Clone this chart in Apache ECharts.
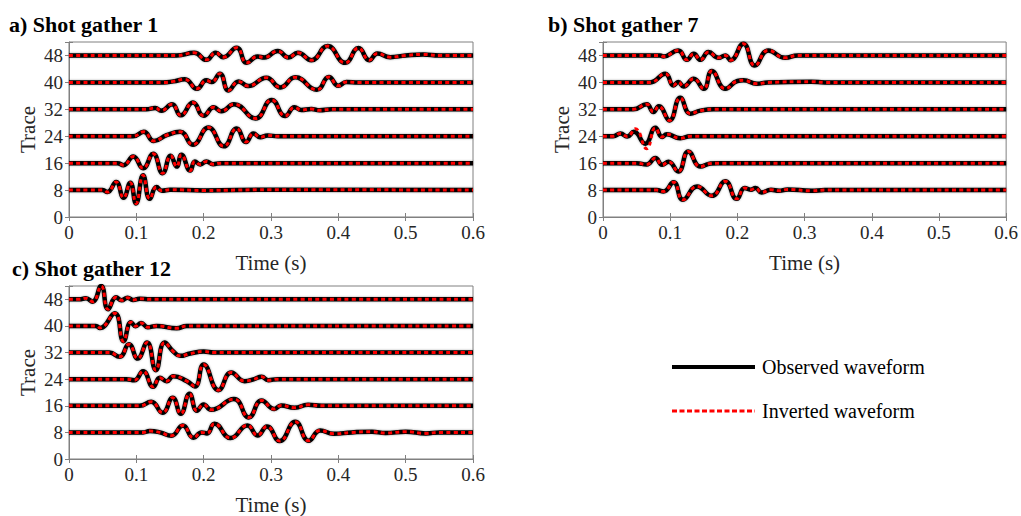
<!DOCTYPE html>
<html>
<head>
<meta charset="utf-8">
<style>
	html, body { margin: 0; padding: 0; background: #fff; }
	#chart { width: 1021px; height: 516px; }
</style>
</head>
<body>
<div id="chart"></div>
<script src="https://cdn.jsdelivr.net/npm/echarts@6.0.0/dist/echarts.min.js"></script>
<script>
	// trace offsets and axis ticks
	var traces = [8, 16, 24, 32, 40, 48];
	var timeTicks = [0, 0.1, 0.2, 0.3, 0.4, 0.5, 0.6];
	var traceTicks = [0, 8, 16, 24, 32, 40, 48];
	var titles = ['a) Shot gather 1', 'b) Shot gather 7', 'c) Shot gather 12'];

	// waveforms: [time (s), amplitude (trace units)]
	// shot gather 1
	var a08 = [[0,0],[0.05,0],[0.057,-0.6],[0.07,2.4],[0.081,-2.3],[0.091,2.2],[0.0995,-4.0],[0.11,4.4],[0.12,-2.6],[0.13,0.9],[0.138,-0.2],[0.15,0.1],[0.2,-0.1],[0.3,0.1],[0.6,0]];
	var a16 = [[0,0],[0.072,0],[0.081,-0.6],[0.0955,2.0],[0.11,-1.5],[0.125,2.8],[0.139,-3.0],[0.151,2.2],[0.16,-1.0],[0.167,2.5],[0.18,-2.2],[0.187,0.5],[0.195,-0.4],[0.204,0.5],[0.214,-0.3],[0.225,0],[0.6,0]];
	var a24 = [[0,0],[0.095,0],[0.111,1.3],[0.126,-1.4],[0.145,0.3],[0.165,1.3],[0.184,-2.5],[0.207,2.6],[0.23,-3.0],[0.249,2.3],[0.263,-1.7],[0.274,0.8],[0.284,-0.3],[0.295,0.2],[0.31,0],[0.6,0]];
	var a32 = [[0,0],[0.115,0],[0.128,0.4],[0.137,-0.4],[0.153,1.5],[0.166,-1.8],[0.184,2.0],[0.2,-1.9],[0.215,0.6],[0.226,-0.6],[0.245,1.5],[0.277,-2.7],[0.301,2.8],[0.321,-2.0],[0.335,0.6],[0.345,-0.2],[0.36,0.1],[0.372,-0.3],[0.39,0],[0.6,0]];
	var a40 = [[0,0],[0.14,0],[0.155,0.3],[0.172,0.9],[0.19,-1.9],[0.204,0.6],[0.212,0.1],[0.224,2.6],[0.237,-2.4],[0.252,0.3],[0.266,-1.1],[0.293,1.4],[0.314,-1.5],[0.336,1.5],[0.368,-2.2],[0.386,1.6],[0.4,-1.0],[0.412,0.1],[0.43,0],[0.6,0]];
	var a48 = [[0,0],[0.16,0],[0.186,0.8],[0.204,-1.3],[0.218,0.8],[0.229,-0.5],[0.249,2.3],[0.264,-2.2],[0.28,-0.3],[0.29,-0.6],[0.31,1.3],[0.326,-0.6],[0.34,0.8],[0.36,-1.4],[0.384,2.8],[0.41,-2.2],[0.43,2.2],[0.446,-1.4],[0.458,0.6],[0.477,-0.5],[0.5,0],[0.526,0.3],[0.55,0],[0.6,0]];

	// shot gather 7
	var b08 = [[0,0],[0.08,0],[0.09,-0.4],[0.105,2.3],[0.119,-2.9],[0.14,1.1],[0.162,-1.7],[0.182,2.6],[0.199,-2.6],[0.211,0.6],[0.22,0.1],[0.227,0.6],[0.236,-0.7],[0.25,0.1],[0.262,-0.2],[0.275,0.2],[0.31,-0.2],[0.33,0],[0.6,0]];
	var b16 = [[0,0],[0.05,0],[0.065,-0.4],[0.078,1.5],[0.088,-0.5],[0.0975,0.4],[0.112,-2.5],[0.127,3.5],[0.145,-1.0],[0.16,-0.1],[0.17,0],[0.6,0]];
	var b24 = [[0,0],[0.015,0],[0.026,0.8],[0.036,-0.1],[0.046,1.3],[0.063,-2.2],[0.078,2.5],[0.088,-0.2],[0.095,0.6],[0.115,-0.6],[0.13,0],[0.6,0]];
	var b32 = [[0,0],[0.045,0],[0.065,1.5],[0.075,-0.8],[0.083,0.9],[0.099,-3.3],[0.115,3.4],[0.13,-1.3],[0.145,-0.4],[0.165,0],[0.6,0]];
	var b40 = [[0,0],[0.07,0],[0.0926,2.6],[0.105,-0.9],[0.112,0.1],[0.12,-1.2],[0.135,1.1],[0.15,-1.9],[0.162,3.4],[0.182,-1.9],[0.2,0.4],[0.209,0.6],[0.229,-0.4],[0.245,0],[0.31,0.2],[0.33,0],[0.6,0]];
	var b48 = [[0,0],[0.085,0],[0.09,-0.3],[0.112,1.5],[0.125,-1.3],[0.135,0.5],[0.145,-1.3],[0.157,1.0],[0.172,-0.7],[0.182,0],[0.19,-1.4],[0.209,3.5],[0.226,-3.0],[0.246,1.5],[0.271,-0.7],[0.29,0],[0.6,0]];
	// the inverted trace 24 of gather 7 departs a little from the observed one
	var b24inv = [[0,0],[0.015,0],[0.026,0.8],[0.036,-0.1],[0.048,2.2],[0.065,-3.7],[0.078,2.5],[0.088,-0.2],[0.095,0.6],[0.115,-0.6],[0.13,0],[0.6,0]];

	// shot gather 12
	var c08 = [[0,0],[0.11,0],[0.12,0.4],[0.135,0],[0.152,-1.0],[0.169,2.1],[0.185,-1.6],[0.197,0],[0.205,-0.3],[0.216,2.6],[0.24,-1.7],[0.265,2.1],[0.28,-0.9],[0.294,1.8],[0.313,-2.6],[0.336,3.2],[0.356,-2.5],[0.373,0.6],[0.393,-0.4],[0.42,0],[0.45,0.2],[0.47,-0.2],[0.5,0.2],[0.53,-0.3],[0.55,0],[0.6,0]];
	var c16 = [[0,0],[0.105,0],[0.122,1.2],[0.139,-2.1],[0.154,2.4],[0.166,-2.4],[0.179,3.6],[0.19,-1.5],[0.2,0.4],[0.211,-1.2],[0.245,2.0],[0.267,-3.5],[0.286,1.6],[0.305,-1.0],[0.315,0.1],[0.335,-0.6],[0.355,0.3],[0.375,0],[0.6,0]];
	var c24 = [[0,0],[0.085,0],[0.097,-0.3],[0.11,2.4],[0.125,-2.3],[0.135,0.4],[0.145,-0.6],[0.155,0.9],[0.175,-0.6],[0.187,-2.2],[0.2,4.4],[0.222,-3.3],[0.241,2.0],[0.261,-0.6],[0.275,0],[0.286,0.7],[0.296,-0.3],[0.31,0],[0.6,0]];
	var c32 = [[0,0],[0.06,0],[0.075,-1.3],[0.089,2.5],[0.102,-1.8],[0.116,3.0],[0.129,-5.3],[0.142,3.0],[0.155,0.3],[0.165,-1.0],[0.18,-0.3],[0.2,0.3],[0.215,0],[0.6,0]];
	var c40 = [[0,0],[0.04,0],[0.046,-0.6],[0.068,3.8],[0.081,-4.6],[0.092,1.1],[0.099,-0.1],[0.107,0.9],[0.117,-0.4],[0.13,0],[0.16,-0.7],[0.175,0],[0.6,0]];
	var c48 = [[0,0],[0.015,0],[0.025,0.3],[0.035,-0.7],[0.0478,4.0],[0.058,-3.0],[0.07,0.6],[0.078,-0.3],[0.087,0.5],[0.095,-0.2],[0.105,0.2],[0.12,0],[0.6,0]];

	var gather1Obs = [a08, a16, a24, a32, a40, a48];
	var gather7Obs = [b08, b16, b24, b32, b40, b48];
	var gather12Obs = [c08, c16, c24, c32, c40, c48];
	var gather1Inv = [a08, a16, a24, a32, a40, a48];
	var gather7Inv = [b08, b16, b24inv, b32, b40, b48];
	var gather12Inv = [c08, c16, c24, c32, c40, c48];

	var font = 'Liberation Serif';
	var gray = '#262626';
	var frame = '#808080';

	// grid boxes, one per gather
	var boxes = [
		{ left: 69, top: 42, width: 404, height: 175 },
		{ left: 603, top: 42, width: 404, height: 175 },
		{ left: 69, top: 286, width: 404, height: 174 }
	];

	function shift(points, offset) {
		return points.map(function (p) { return [p[0], offset + p[1]]; });
	}

	// tick labels go through a rich style so the serif face is applied
	var tickRich = { t: { fontFamily: font, fontSize: 19, color: gray } };
	function tickLabel(list) {
		return function (v) { return list.indexOf(v) >= 0 ? '{t|' + v + '}' : ''; };
	}

	var grid = [], xAxis = [], yAxis = [], series = [], title = [];

	boxes.forEach(function (b, i) {
		grid.push({ left: b.left, top: b.top, width: b.width, height: b.height,
			show: true, borderColor: frame, borderWidth: 1, backgroundColor: 'transparent' });

		xAxis.push({
			type: 'value', gridIndex: i, min: 0, max: 0.6, interval: 0.1,
			name: 'Time (s)', nameLocation: 'middle', nameGap: 35,
			nameTextStyle: { fontFamily: font, fontSize: 21, color: gray },
			axisLine: { onZero: false, lineStyle: { color: frame } },
			axisTick: { inside: true, length: 4, lineStyle: { color: frame } },
			axisLabel: { fontFamily: font, fontSize: 19, color: gray, margin: 6,
				formatter: tickLabel(timeTicks), rich: tickRich },
			splitLine: { show: false }
		});
		xAxis.push({
			type: 'value', gridIndex: i, min: 0, max: 0.6, interval: 0.1, position: 'top',
			axisLine: { show: false },
			axisTick: { inside: true, length: 4, lineStyle: { color: frame } },
			axisLabel: { show: false }, splitLine: { show: false }
		});
		yAxis.push({
			type: 'value', gridIndex: i, min: 0, max: 52, interval: 8,
			name: 'Trace', nameLocation: 'middle', nameGap: 31,
			nameTextStyle: { fontFamily: font, fontSize: 21, color: gray },
			axisLine: { onZero: false, lineStyle: { color: frame } },
			axisTick: { inside: true, length: 4, lineStyle: { color: frame } },
			axisLabel: { fontFamily: font, fontSize: 19, color: gray, margin: 6,
				formatter: tickLabel(traceTicks), rich: tickRich },
			splitLine: { show: false }
		});
		yAxis.push({
			type: 'value', gridIndex: i, min: 0, max: 52, interval: 8, position: 'right',
			axisLine: { show: false },
			axisTick: { inside: true, length: 4, lineStyle: { color: frame } },
			axisLabel: { show: false }, splitLine: { show: false }
		});
	});

	title = [
		{ text: titles[0], left: 9, top: 13 },
		{ text: titles[1], left: 548, top: 13 },
		{ text: titles[2], left: 12, top: 257 }
	].map(function (t) {
		t.padding = 0;
		t.textStyle = { fontFamily: font, fontSize: 22, fontWeight: 'bold', color: '#000' };
		return t;
	});

	var panels = [
		{ obs: gather1Obs, inv: gather1Inv },
		{ obs: gather7Obs, inv: gather7Inv },
		{ obs: gather12Obs, inv: gather12Inv }
	];

	panels.forEach(function (p, i) {
		traces.forEach(function (tr, k) {
			series.push({
				name: 'Observed waveform', type: 'line', xAxisIndex: i * 2, yAxisIndex: i * 2,
				data: shift(p.obs[k], tr), smooth: 0.5, symbol: 'none', z: 2,
				lineStyle: { color: '#000', width: 4.5, shadowColor: 'rgba(0,0,0,0.35)', shadowBlur: 2 },
				silent: true, animation: false
			});
		});
		traces.forEach(function (tr, k) {
			series.push({
				name: 'Inverted waveform', type: 'line', xAxisIndex: i * 2, yAxisIndex: i * 2,
				data: shift(p.inv[k], tr), smooth: 0.5, symbol: 'none', z: 3,
				lineStyle: { color: '#ff0000', width: 3, type: [4, 3.3] },
				silent: true, animation: false
			});
		});
	});

	// legend drawn by hand, as in the figure
	var legendItems = [
		{ label: 'Observed waveform', y: 367, stroke: '#000', width: 4, dash: null },
		{ label: 'Inverted waveform', y: 411, stroke: '#ff0000', width: 3, dash: [5, 2.5] }
	];
	var graphic = [];
	legendItems.forEach(function (it) {
		graphic.push({ type: 'line', shape: { x1: 672, y1: it.y, x2: 755, y2: it.y },
			style: { stroke: it.stroke, lineWidth: it.width, lineDash: it.dash } });
		graphic.push({ type: 'text', x: 762, y: it.y,
			style: { text: it.label, fontFamily: font, fontSize: 20, fill: '#000', verticalAlign: 'middle' } });
	});

	var myChart = echarts.init(document.getElementById('chart'), null, { renderer: 'svg' });
	myChart.setOption({
		animation: false,
		textStyle: { fontFamily: font },
		title: title,
		grid: grid,
		xAxis: xAxis,
		yAxis: yAxis,
		series: series,
		graphic: graphic
	});
</script>
</body>
</html>
